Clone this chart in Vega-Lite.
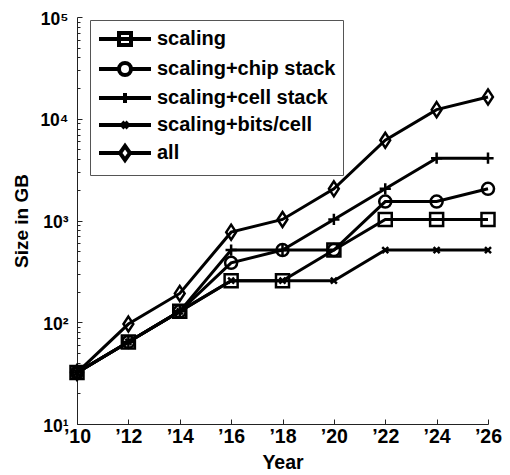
{
  "$schema": "https://vega.github.io/schema/vega-lite/v6.json",
  "width": 411,
  "height": 407,
  "autosize": {"type": "none"},
  "padding": {"left": 77, "top": 17, "right": 22, "bottom": 51},
  "background": "white",
  "config": {
    "view": {"stroke": null},
    "font": "Liberation Sans",
    "axis": {"labelFont": "Liberation Sans", "titleFont": "Liberation Sans", "labelFontWeight": "bold", "titleFontWeight": "bold", "labelColor": "black", "titleColor": "black", "domainColor": "#222", "tickColor": "#222", "grid": false}
  },
  "data": {
    "values": [
      {"series": "scaling", "year": 10, "size": 32},
      {"series": "scaling", "year": 12, "size": 64},
      {"series": "scaling", "year": 14, "size": 128},
      {"series": "scaling", "year": 16, "size": 256},
      {"series": "scaling", "year": 18, "size": 256},
      {"series": "scaling", "year": 20, "size": 512},
      {"series": "scaling", "year": 22, "size": 1024},
      {"series": "scaling", "year": 24, "size": 1024},
      {"series": "scaling", "year": 26, "size": 1024},
      {"series": "scaling+chip stack", "year": 10, "size": 32},
      {"series": "scaling+chip stack", "year": 12, "size": 64},
      {"series": "scaling+chip stack", "year": 14, "size": 128},
      {"series": "scaling+chip stack", "year": 16, "size": 384},
      {"series": "scaling+chip stack", "year": 18, "size": 512},
      {"series": "scaling+chip stack", "year": 20, "size": 512},
      {"series": "scaling+chip stack", "year": 22, "size": 1536},
      {"series": "scaling+chip stack", "year": 24, "size": 1536},
      {"series": "scaling+chip stack", "year": 26, "size": 2048},
      {"series": "scaling+cell stack", "year": 10, "size": 32},
      {"series": "scaling+cell stack", "year": 12, "size": 64},
      {"series": "scaling+cell stack", "year": 14, "size": 128},
      {"series": "scaling+cell stack", "year": 16, "size": 512},
      {"series": "scaling+cell stack", "year": 18, "size": 512},
      {"series": "scaling+cell stack", "year": 20, "size": 1024},
      {"series": "scaling+cell stack", "year": 22, "size": 2048},
      {"series": "scaling+cell stack", "year": 24, "size": 4096},
      {"series": "scaling+cell stack", "year": 26, "size": 4096},
      {"series": "scaling+bits/cell", "year": 10, "size": 32},
      {"series": "scaling+bits/cell", "year": 12, "size": 64},
      {"series": "scaling+bits/cell", "year": 14, "size": 128},
      {"series": "scaling+bits/cell", "year": 16, "size": 256},
      {"series": "scaling+bits/cell", "year": 18, "size": 256},
      {"series": "scaling+bits/cell", "year": 20, "size": 256},
      {"series": "scaling+bits/cell", "year": 22, "size": 512},
      {"series": "scaling+bits/cell", "year": 24, "size": 512},
      {"series": "scaling+bits/cell", "year": 26, "size": 512},
      {"series": "all", "year": 10, "size": 32},
      {"series": "all", "year": 12, "size": 96},
      {"series": "all", "year": 14, "size": 192},
      {"series": "all", "year": 16, "size": 768},
      {"series": "all", "year": 18, "size": 1024},
      {"series": "all", "year": 20, "size": 2048},
      {"series": "all", "year": 22, "size": 6144},
      {"series": "all", "year": 24, "size": 12288},
      {"series": "all", "year": 26, "size": 16384}
    ]
  },
  "encoding": {
    "x": {
      "field": "year", "type": "quantitative",
      "scale": {"domain": [10, 26], "nice": false, "zero": false},
      "axis": {"title": "Year", "values": [10, 12, 14, 16, 18, 20, 22, 24, 26], "labelExpr": "'’' + datum.value", "labelFontSize": 19.5, "titleFontSize": 19.5, "tickSize": -5, "labelPadding": 8, "titlePadding": 8, "labelFlush": false}
    }
  },
  "layer": [
    {
      "mark": {"type": "line", "color": "black", "strokeWidth": 3},
      "encoding": {
        "y": {
          "field": "size", "type": "quantitative",
          "scale": {"type": "log", "domain": [10, 100000], "nice": false},
          "axis": {"title": "Size in GB", "orient": "left", "values": [10, 100, 1000, 10000, 100000], "labelExpr": "'10' + (datum.value == 10 ? '¹' : datum.value == 100 ? '²' : datum.value == 1000 ? '³' : datum.value == 10000 ? '⁴' : '⁵')", "labelFontSize": 17.5, "titleFontSize": 19, "tickSize": -5, "labelPadding": 14, "titlePadding": 8, "labelOffset": 2}
        },
        "detail": {"field": "series"}
      }
    },
    {
      "mark": {"type": "point", "filled": false, "color": "black", "strokeWidth": 2.5, "size": 196, "opacity": 1},
      "encoding": {
        "y": {"field": "size", "type": "quantitative", "scale": {"type": "log", "domain": [10, 100000], "nice": false},
          "axis": {"orient": "left", "offset": 0, "title": null, "labels": false, "domain": false, "ticks": true, "tickSize": -3, "tickWidth": 1, "values": [20, 30, 40, 50, 60, 70, 80, 90, 200, 300, 400, 500, 600, 700, 800, 900, 2000, 3000, 4000, 5000, 6000, 7000, 8000, 9000, 20000, 30000, 40000, 50000, 60000, 70000, 80000, 90000]}},
        "shape": {
          "field": "series", "type": "nominal",
          "scale": {
            "domain": ["scaling", "scaling+chip stack", "scaling+cell stack", "scaling+bits/cell", "all"],
            "range": [
              "M-0.93,-0.93H0.93V0.93H-0.93Z",
              "M0.86,0A0.86,0.86 0 1,1 -0.86,0A0.86,0.86 0 1,1 0.86,0Z",
              "M-0.8,0H0.8M0,-0.8V0.8",
              "M-0.43,-0.43L0.43,0.43M0.43,-0.43L-0.43,0.43",
              "M0,-1.07L0.7,0L0,1.07L-0.7,0Z"
            ]
          },
          "legend": null
        }
      }
    },
    {
      "transform": [{"filter": "datum.year < 0"}],
      "mark": {"type": "point", "filled": false, "color": "black", "strokeWidth": 4},
      "encoding": {
        "y": {"field": "size", "type": "quantitative", "scale": {"type": "log", "domain": [10, 100000], "nice": false}, "axis": null},
        "shape": {
          "field": "series", "type": "nominal",
          "scale": {
            "domain": ["scaling", "scaling+chip stack", "scaling+cell stack", "scaling+bits/cell", "all"],
            "range": [
              "M-1,0H4.2M1,-0.6H2.2V0.6H1Z",
              "M-1,0H1M2.2,0H4.2M2.2,0A0.6,0.6 0 1,1 1,0A0.6,0.6 0 1,1 2.2,0Z",
              "M-1,0H4.2M1.6,-0.5V0.5",
              "M-1,0H4.2M1.3,-0.3L1.9,0.3M1.9,-0.3L1.3,0.3",
              "M-1,0H1.1M2.1,0H4.2M1.6,-0.7L2.1,0L1.6,0.7L1.1,0Z"
            ]
          },
          "legend": {
            "title": null, "orient": "none", "legendX": 13, "legendY": 3,
            "strokeColor": "#555", "fillColor": "white", "padding": 7,
            "symbolSize": 400, "symbolStrokeWidth": 4, "symbolStrokeColor": "black", "symbolFillColor": "transparent", "symbolOpacity": 1,
            "labelFont": "Liberation Sans", "labelFontWeight": "bold", "labelFontSize": 20, "labelColor": "black", "labelOffset": 36, "labelLimit": 300,
            "rowPadding": 2
          }
        }
      }
    }
  ],
  "resolve": {"scale": {"shape": "independent", "y": "independent"}, "axis": {"y": "independent"}, "legend": {"shape": "independent"}}
}
